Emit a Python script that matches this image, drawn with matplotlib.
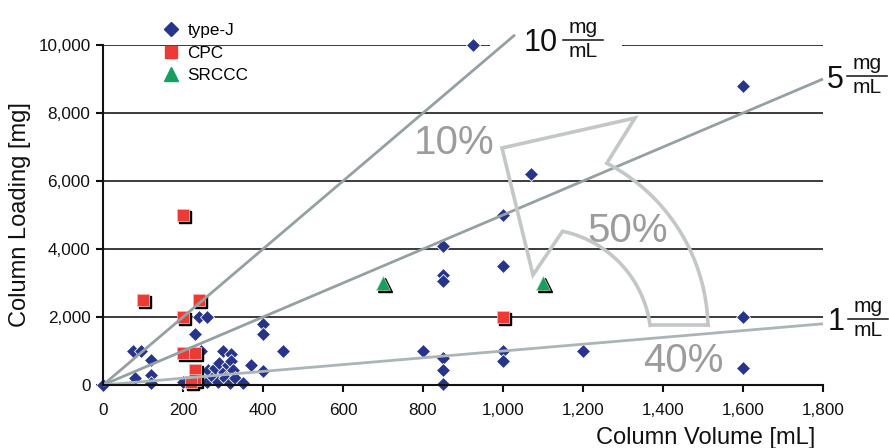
import numpy as np
import matplotlib
matplotlib.use("Agg")
import matplotlib.pyplot as plt
from matplotlib.transforms import offset_copy
from matplotlib.patches import Polygon, Rectangle
from matplotlib.lines import Line2D

plt.rcParams['font.family'] = ['Liberation Sans', 'DejaVu Sans']

# ---------------- data ----------------
typej_x = [0, 75, 95, 120, 80, 120, 120, 200, 230, 240, 260, 245,
           260, 263, 275, 280, 288, 290, 300, 302, 305, 313, 320, 320, 325, 318, 330, 350,
           370, 400, 400, 400, 450,
           800, 850, 850, 850, 850, 850, 850,
           925, 1000, 1000, 1000, 1000, 1070, 1200, 1600, 1600, 1600]
typej_y = [0, 1000, 1000, 750, 200, 300, 50, 100, 1500, 2000, 2000, 1000,
           100, 440, 245, 490, 100, 650, 1000, 390, 200, 590, 900, 700, 440, 50, 200, 50,
           600, 1800, 1500, 400, 1000,
           1000, 800, 450, 20, 4100, 3250, 3050,
           10000, 5000, 3500, 1000, 700, 6200, 1000, 8800, 2000, 500]

cpc_x = [100, 240, 200, 200, 1000, 200, 230, 230, 230, 220]
cpc_y = [2500, 2500, 5000, 2000, 2000, 950, 950, 450, 150, 80]

srccc_x = [700, 1100]
srccc_y = [3000, 3000]

ratio_values = [10, 5, 1]          # mg/mL
ratio_x_end = [1030, 1800, 1800]   # mL
ratio_labels = ["10", "5", "1"]

percent_labels = ["10%", "50%", "40%"]

xticks = [0, 200, 400, 600, 800, 1000, 1200, 1400, 1600, 1800]
xticklabels = ["0", "200", "400", "600", "800", "1,000", "1,200", "1,400", "1,600", "1,800"]
yticks = [0, 2000, 4000, 6000, 8000, 10000]
yticklabels = ["0", "2,000", "4,000", "6,000", "8,000", "10,000"]

# ---------------- layout ----------------
W, H = 889, 448
fig = plt.figure(figsize=(W / 100, H / 100), dpi=100)


def px(x, y):
    return (x / W, 1 - y / H)


ax = fig.add_axes([103 / W, (H - 385) / H, 720 / W, 340 / H])
ax.set_xlim(0, 1800)
ax.set_ylim(0, 10000)
for s in ("top", "right"):
    ax.spines[s].set_visible(False)
for s in ("left", "bottom"):
    ax.spines[s].set_linewidth(1.5)
    ax.spines[s].set_color("#111111")
    ax.spines[s].set_zorder(6)

ax.set_xticks(xticks)
ax.set_xticklabels(xticklabels)
ax.set_yticks(yticks)
ax.set_yticklabels(yticklabels)
ax.tick_params(axis="both", direction="out", length=5, width=1.5, labelsize=12.3,
               colors="#111111")
ax.tick_params(axis="x", pad=8)
ax.tick_params(axis="y", pad=4)

# horizontal grid lines
for y in yticks[1:]:
    ax.axhline(y, color="#1a1a1a", lw=1.2, zorder=1)

navy = "#26348c"
red = "#ee3a35"
green = "#16a060"
ms_d, ms_s, ms_t = 7.6, 8.4, 10

# type-J diamonds
ax.plot(typej_x, typej_y, "D", ms=ms_d, color=navy, mec="white", mew=0.6,
        clip_on=False, zorder=3)

# shadows for CPC and SRCCC
shadow = offset_copy(ax.transData, fig=fig, x=2.2, y=-2.2, units="dots")
ax.plot(cpc_x, cpc_y, "s", ms=ms_s, color="black", transform=shadow, clip_on=False, zorder=4)
ax.plot(cpc_x, cpc_y, "s", ms=ms_s, color=red, mec="#f7b5a8", mew=0.6, clip_on=False, zorder=4)
ax.plot(srccc_x, srccc_y, "^", ms=ms_t, color="black", transform=shadow, clip_on=False, zorder=4)
ax.plot(srccc_x, srccc_y, "^", ms=ms_t, color=green, mec="#9bd6b4", mew=0.5, clip_on=False, zorder=4)

# ratio lines
ratio_colors = ["#95a0a2", "#95a0a2", "#aab5b7"]
for r, xe, c in zip(ratio_values, ratio_x_end, ratio_colors):
    ax.plot([0, xe], [0, r * xe], color=c, lw=2, clip_on=False, zorder=5,
            solid_capstyle="butt")

# white gap behind the 10 mg/mL label
ax.add_patch(Rectangle(px(490, 56), 132 / W, 22 / H, transform=fig.transFigure,
                       facecolor="white", edgecolor="none", zorder=2, clip_on=False))


def fraction_label(num, cx, cy, bar_x0, bar_x1, bar_y):
    fig.text(*px(cx, cy), num, fontsize=22, ha="center", va="center", color="#111111")
    fig.add_artist(Line2D([bar_x0 / W, bar_x1 / W], [1 - bar_y / H, 1 - bar_y / H],
                          transform=fig.transFigure, color="#111111", lw=1.1))
    mid = (bar_x0 + bar_x1) / 2
    fig.text(*px(mid, bar_y - 3), "mg", fontsize=15, ha="center", va="bottom", color="#111111")
    fig.text(*px(mid, bar_y + 2), "mL", fontsize=15, ha="center", va="top", color="#111111")


fraction_label(ratio_labels[0], 541, 43, 563, 603, 40)
fraction_label(ratio_labels[1], 835, 80, 847, 887, 76)
fraction_label(ratio_labels[2], 836, 322, 848, 888, 319)

# curved arrow (outline)
outer_c, outer_r = (520, 330), 188
inner_c, inner_r = (540, 340), 111
a_out = np.radians(np.linspace(62.5, 1.5, 40))
a_in = np.radians(np.linspace(7.6, 78.3, 40))
outer = [(outer_c[0] + outer_r * np.cos(a), outer_c[1] - outer_r * np.sin(a)) for a in a_out]
inner = [(inner_c[0] + inner_r * np.cos(a), inner_c[1] - inner_r * np.sin(a)) for a in a_in]
pts = [(502, 148), (635, 118)] + outer + [(710, 325), (652, 325)] + inner + [(533, 275)]
poly = Polygon([px(x, y) for x, y in pts], closed=True, fill=False,
               edgecolor="#c3c7c7", lw=2.6, transform=fig.transFigure, joinstyle="miter")
fig.add_artist(poly)

# percentage labels
pc_pos = [(454, 143), (628, 231), (683, 361)]
for lab, (x, y) in zip(percent_labels, pc_pos):
    fig.text(*px(x, y), lab, fontsize=29, ha="center", va="center", color="#9c9c9c")

# axis labels
fig.text(*px(815, 438), "Column Volume [mL]", fontsize=17, ha="right", va="center",
         color="#111111")
fig.text(*px(20, 215), "Column Loading [mg]", fontsize=17, ha="center", va="center",
         rotation=90, color="#111111")

# legend
handles = [
    Line2D([], [], ls="none", marker="D", ms=ms_d, color=navy),
    Line2D([], [], ls="none", marker="s", ms=ms_s, color=red),
    Line2D([], [], ls="none", marker="^", ms=ms_t, color=green),
]
ax.legend(handles, ["type-J", "CPC", "SRCCC"], loc="upper left",
          bbox_to_anchor=px(162, 23), bbox_transform=fig.transFigure,
          frameon=False, fontsize=12.3, handlelength=1.0, handletextpad=0.5,
          labelspacing=0.45, borderpad=0, borderaxespad=0)

fig.savefig("out.png", dpi=100)
